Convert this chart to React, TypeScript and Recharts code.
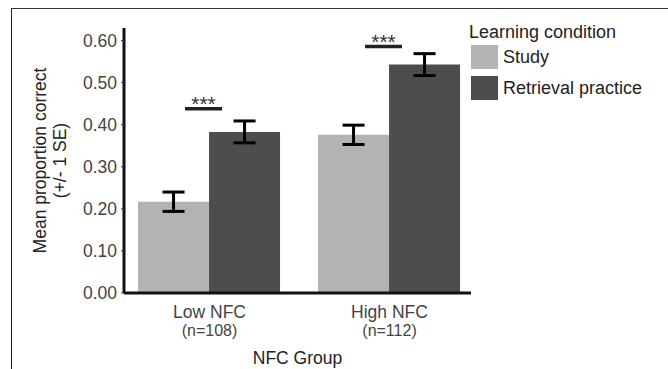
import React from "react"
import { ComposedChart, Bar, Scatter, XAxis, YAxis, ErrorBar, Legend } from "recharts"

const categories = ["Low NFC", "High NFC"]
const groupSizes = ["(n=108)", "(n=112)"]
const seriesNames = ["Study", "Retrieval practice"]
const studyMeans = [0.217, 0.376]
const studySE = [0.023, 0.023]
const retrievalMeans = [0.383, 0.543]
const retrievalSE = [0.026, 0.026]
const sigHeights = [0.438, 0.586]
const sigLabels = ["***", "***"]
const yTicks = [0, 0.1, 0.2, 0.3, 0.4, 0.5, 0.6]

const STUDY = "#b3b3b3"
const RETRIEVAL = "#4d4d4d"
const FONT = '"Liberation Sans", Arial, sans-serif'

const data = categories.map((name, i) => ({
  name,
  study: studyMeans[i],
  studySe: studySE[i],
  retrieval: retrievalMeans[i],
  retrievalSe: retrievalSE[i],
  sig: sigHeights[i],
  sigLabel: sigLabels[i],
}))

function GroupTick({ x, y, payload, index }: any) {
  return (
    <g fontFamily={FONT} fill="#444">
      <text x={x} y={y + 25} textAnchor="middle" fontSize={17.5}>{payload.value}</text>
      <text x={x} y={y + 43} textAnchor="middle" fontSize={16}>{groupSizes[index]}</text>
    </g>
  )
}

function YTitle({ viewBox }: any) {
  const cy = viewBox.y + viewBox.height / 2
  return (
    <g fontFamily={FONT} fill="#222" fontSize={17.5} textAnchor="middle">
      <text x={0} y={0} transform={`translate(${viewBox.x + 46},${cy}) rotate(-90)`}>Mean proportion correct</text>
      <text x={0} y={0} transform={`translate(${viewBox.x + 66},${cy}) rotate(-90)`}>(+/- 1 SE)</text>
    </g>
  )
}

// significance bar + stars, placed a bit left of the group centre
function SigMark(props: any) {
  const { cx, cy, payload } = props
  if (cx == null || cy == null) return null
  const x = cx - 6
  return (
    <g>
      <text x={x} y={cy + 2} textAnchor="middle" fontSize={21} fill="#333" fontFamily={FONT}>
        {payload.sigLabel}
      </text>
      <line x1={x - 18.5} x2={x + 18.5} y1={cy} y2={cy} stroke="#222" strokeWidth={3.5} />
    </g>
  )
}

function LegendBox({ payload }: any) {
  const items = seriesNames
    .map((n) => (payload || []).find((p: any) => p.value === n))
    .filter(Boolean)
  return (
    <div style={{ fontFamily: FONT, color: "#222" }}>
      <div style={{ fontSize: 18, lineHeight: "20px", whiteSpace: "nowrap" }}>Learning condition</div>
      {items.map((p: any, i: number) => (
        <div key={p.value} style={{ display: "flex", alignItems: "center", height: 24, marginTop: i === 0 ? 3 : 7 }}>
          <div style={{ width: 27, height: 24, background: p.color, marginLeft: 2 }} />
          <span style={{ fontSize: 18, marginLeft: 5, whiteSpace: "nowrap" }}>{p.value}</span>
        </div>
      ))}
    </div>
  )
}

export default function App() {
  return (
    <div style={{ position: "absolute", left: 0, top: 0, width: 668, height: 369, background: "#fff" }}>
      <div
        style={{
          position: "absolute",
          left: 11,
          top: 8,
          right: 0,
          bottom: 0,
          borderTop: "1.5px solid #333",
          borderLeft: "1.5px solid #222",
        }}
      />
      <ComposedChart
        width={668}
        height={369}
        data={data}
        margin={{ top: 28, right: 197, bottom: 0, left: 0 }}
        barCategoryGap="10.3%"
        barGap={0}
      >
        <XAxis
          dataKey="name"
          height={76}
          padding={{ left: -4.5, right: -8.5 }}
          axisLine={{ stroke: "#111", strokeWidth: 3 }}
          tickLine={false}
          tickSize={0}
          tickMargin={0}
          tick={<GroupTick />}
          interval={0}
          label={{ value: "NFC Group", position: "insideBottom", offset: 5, fontSize: 17.5, fill: "#222", fontFamily: FONT }}
        />
        <YAxis
          width={124}
          domain={[0, 0.63]}
          ticks={yTicks}
          tickFormatter={(v: number) => v.toFixed(2)}
          axisLine={{ stroke: "#111", strokeWidth: 3 }}
          tickLine={{ stroke: "#333" }}
          tickSize={3}
          tickMargin={4}
          tick={{ fontSize: 17.5, fill: "#444", fontFamily: FONT }}
          label={<YTitle />}
        />
        <Legend
          layout="vertical"
          align="center"
          verticalAlign="middle"
          content={<LegendBox />}
          wrapperStyle={{ left: 469, top: 22, width: 200 }}
        />
        <Bar dataKey="study" name={seriesNames[0]} fill={STUDY} isAnimationActive={false}>
          <ErrorBar dataKey="studySe" width={11} strokeWidth={3} stroke="#000" />
        </Bar>
        <Bar dataKey="retrieval" name={seriesNames[1]} fill={RETRIEVAL} isAnimationActive={false}>
          <ErrorBar dataKey="retrievalSe" width={11} strokeWidth={3} stroke="#000" />
        </Bar>
        <Scatter dataKey="sig" legendType="none" shape={<SigMark />} isAnimationActive={false} />
      </ComposedChart>
    </div>
  )
}
